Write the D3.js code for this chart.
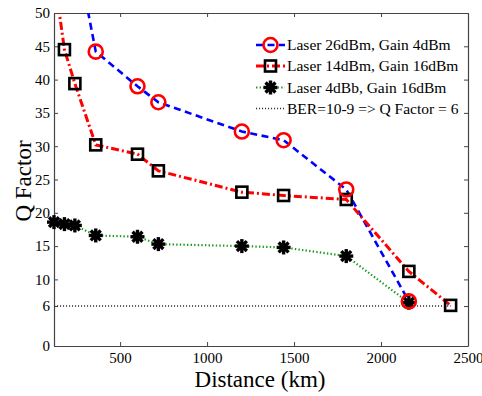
<!DOCTYPE html>
<html>
<head>
<meta charset="utf-8">
<script src="https://cdn.jsdelivr.net/npm/d3@7/dist/d3.min.js"></script>
<style>
  html, body { margin: 0; padding: 0; background: #fff; }
  svg { display: block; }
  text { font-family: "Liberation Serif", "Times New Roman", serif; fill: #000; }
</style>
</head>
<body>
<svg id="chart" width="482" height="396"></svg>
<script>
// Q factor versus transmission distance for three launch/gain settings
const laser26X = [240, 360, 600, 720, 1200, 1440, 1800, 2160];
const laser26Y = [60.4, 44.2, 39.0, 36.6, 32.2, 30.9, 23.5, 6.7];

const laser14X = [120, 180, 240, 360, 600, 720, 1200, 1440, 1800, 2160, 2400];
const laser14Y = [55.8, 44.5, 39.4, 30.2, 28.8, 26.3, 23.1, 22.6, 22.0, 11.2, 6.1];

const laser4X = [120, 180, 240, 360, 600, 720, 1200, 1440, 1800, 2160];
const laser4Y = [18.6, 18.3, 18.1, 16.6, 16.4, 15.3, 15.0, 14.8, 13.5, 6.5];

const berX = [120, 2400];
const berY = [6, 6];

const seriesNames = [
  "Laser 26dBm, Gain 4dBm",
  "Laser 14dBm, Gain 16dBm",
  "Laser 4dBb, Gain 16dBm",
  "BER=10-9 => Q Factor = 6"
];

const xTicks = [500, 1000, 1500, 2000, 2500];
const yTicks = [0, 6, 10, 15, 20, 25, 30, 35, 40, 45, 50];

const margin = { left: 54, top: 13, right: 14, bottom: 50 };
const W = 482, H = 396;
const svg = d3.select("#chart");

const x = d3.scaleLinear().domain([120, 2500]).range([margin.left, W - margin.right]);
const y = d3.scaleLinear().domain([0, 50]).range([H - margin.bottom, margin.top]);

const zip = (xs, ys) => xs.map((v, i) => [v, ys[i]]);

const styles = [
  { data: zip(laser26X, laser26Y), color: "#0000ff", width: 2.6, dash: "7,4.5", marker: "circle" },
  { data: zip(laser14X, laser14Y), color: "#ff0000", width: 3, dash: "8,3,2,3", marker: "square" },
  { data: zip(laser4X, laser4Y), color: "#1f9a1f", width: 2.2, dash: "1.4,2.2", marker: "star" },
  { data: zip(berX, berY), color: "#333333", width: 1.6, dash: "1.1,1.9", marker: null }
];

const defs = svg.append("defs");
defs.append("clipPath").attr("id", "plotClip").append("rect")
  .attr("x", margin.left).attr("y", margin.top)
  .attr("width", W - margin.left - margin.right)
  .attr("height", H - margin.top - margin.bottom);
defs.append("clipPath").attr("id", "markerClip").append("rect")
  .attr("x", margin.left - 10).attr("y", margin.top - 10)
  .attr("width", W - margin.left - margin.right + 20)
  .attr("height", H - margin.top - margin.bottom + 20);

// Axes box with inward ticks on all four sides
const axisColor = "#444";
const fmt = d3.format("d");
const gx = svg.append("g").attr("transform", `translate(0,${y(0)})`)
  .call(d3.axisBottom(x).tickValues(xTicks).tickFormat(fmt).tickSizeInner(-4).tickSizeOuter(0).tickPadding(6));
const gy = svg.append("g").attr("transform", `translate(${margin.left},0)`)
  .call(d3.axisLeft(y).tickValues(yTicks).tickFormat(fmt).tickSizeInner(-4).tickSizeOuter(0).tickPadding(4));
const gt = svg.append("g").attr("transform", `translate(0,${margin.top})`)
  .call(d3.axisTop(x).tickValues(xTicks).tickSizeInner(-4).tickSizeOuter(0).tickFormat(""));
const gr = svg.append("g").attr("transform", `translate(${W - margin.right},0)`)
  .call(d3.axisRight(y).tickValues(yTicks).tickSizeInner(-4).tickSizeOuter(0).tickFormat(""));
[gx, gy, gt, gr].forEach(g => {
  g.selectAll("path").attr("stroke", axisColor).attr("stroke-width", 1.2);
  g.selectAll("line").attr("stroke", axisColor).attr("stroke-width", 1);
  g.selectAll("text").attr("font-family", "Liberation Serif, Times New Roman, serif")
    .attr("font-size", 15).attr("fill", "#000");
});

// Series lines
const line = d3.line().x(d => x(d[0])).y(d => y(d[1]));
const linesG = svg.append("g").attr("clip-path", "url(#plotClip)");
styles.forEach(s => {
  linesG.append("path").datum(s.data).attr("d", line)
    .attr("fill", "none").attr("stroke", s.color)
    .attr("stroke-width", s.width).attr("stroke-dasharray", s.dash);
});

function drawMarker(g, type, cx, cy) {
  if (type === "circle") {
    g.append("circle").attr("cx", cx).attr("cy", cy).attr("r", 7)
      .attr("fill", "none").attr("stroke", "#ff0000").attr("stroke-width", 2.6);
  } else if (type === "square") {
    g.append("rect").attr("x", cx - 5.5).attr("y", cy - 5.5).attr("width", 11).attr("height", 11)
      .attr("fill", "none").attr("stroke", "#000").attr("stroke-width", 2.6);
  } else if (type === "star") {
    const r = 7;
    for (let k = 0; k < 4; k++) {
      const a = k * Math.PI / 4;
      g.append("line")
        .attr("x1", cx - r * Math.cos(a)).attr("y1", cy - r * Math.sin(a))
        .attr("x2", cx + r * Math.cos(a)).attr("y2", cy + r * Math.sin(a))
        .attr("stroke", "#000").attr("stroke-width", 3.4);
    }
    g.append("circle").attr("cx", cx).attr("cy", cy).attr("r", 4).attr("fill", "#000");
  }
}

// Markers: green stars first, then squares, then circles on top
const markersG = svg.append("g").attr("clip-path", "url(#markerClip)");
[2, 1, 0].forEach(i => {
  const s = styles[i];
  s.data.forEach(d => drawMarker(markersG, s.marker, x(d[0]), y(d[1])));
});

// Legend
const legend = svg.append("g");
const legY = [45, 66, 87.5, 108.5];
styles.forEach((s, i) => {
  const ly = legY[i];
  legend.append("line").attr("x1", 256).attr("x2", 285).attr("y1", ly).attr("y2", ly)
    .attr("stroke", s.color).attr("stroke-width", s.width).attr("stroke-dasharray", s.dash);
  if (s.marker) drawMarker(legend, s.marker, 270.5, ly);
  legend.append("text").attr("x", 287).attr("y", ly + 5).attr("font-size", 15.5)
    .text(seriesNames[i]);
});

// Axis titles
svg.append("text").attr("x", 260).attr("y", 387).attr("text-anchor", "middle")
  .attr("font-size", 23).text("Distance (km)");
svg.append("text").attr("transform", `translate(31,181) rotate(-90)`)
  .attr("text-anchor", "middle").attr("font-size", 23).text("Q Factor");
</script>
</body>
</html>
